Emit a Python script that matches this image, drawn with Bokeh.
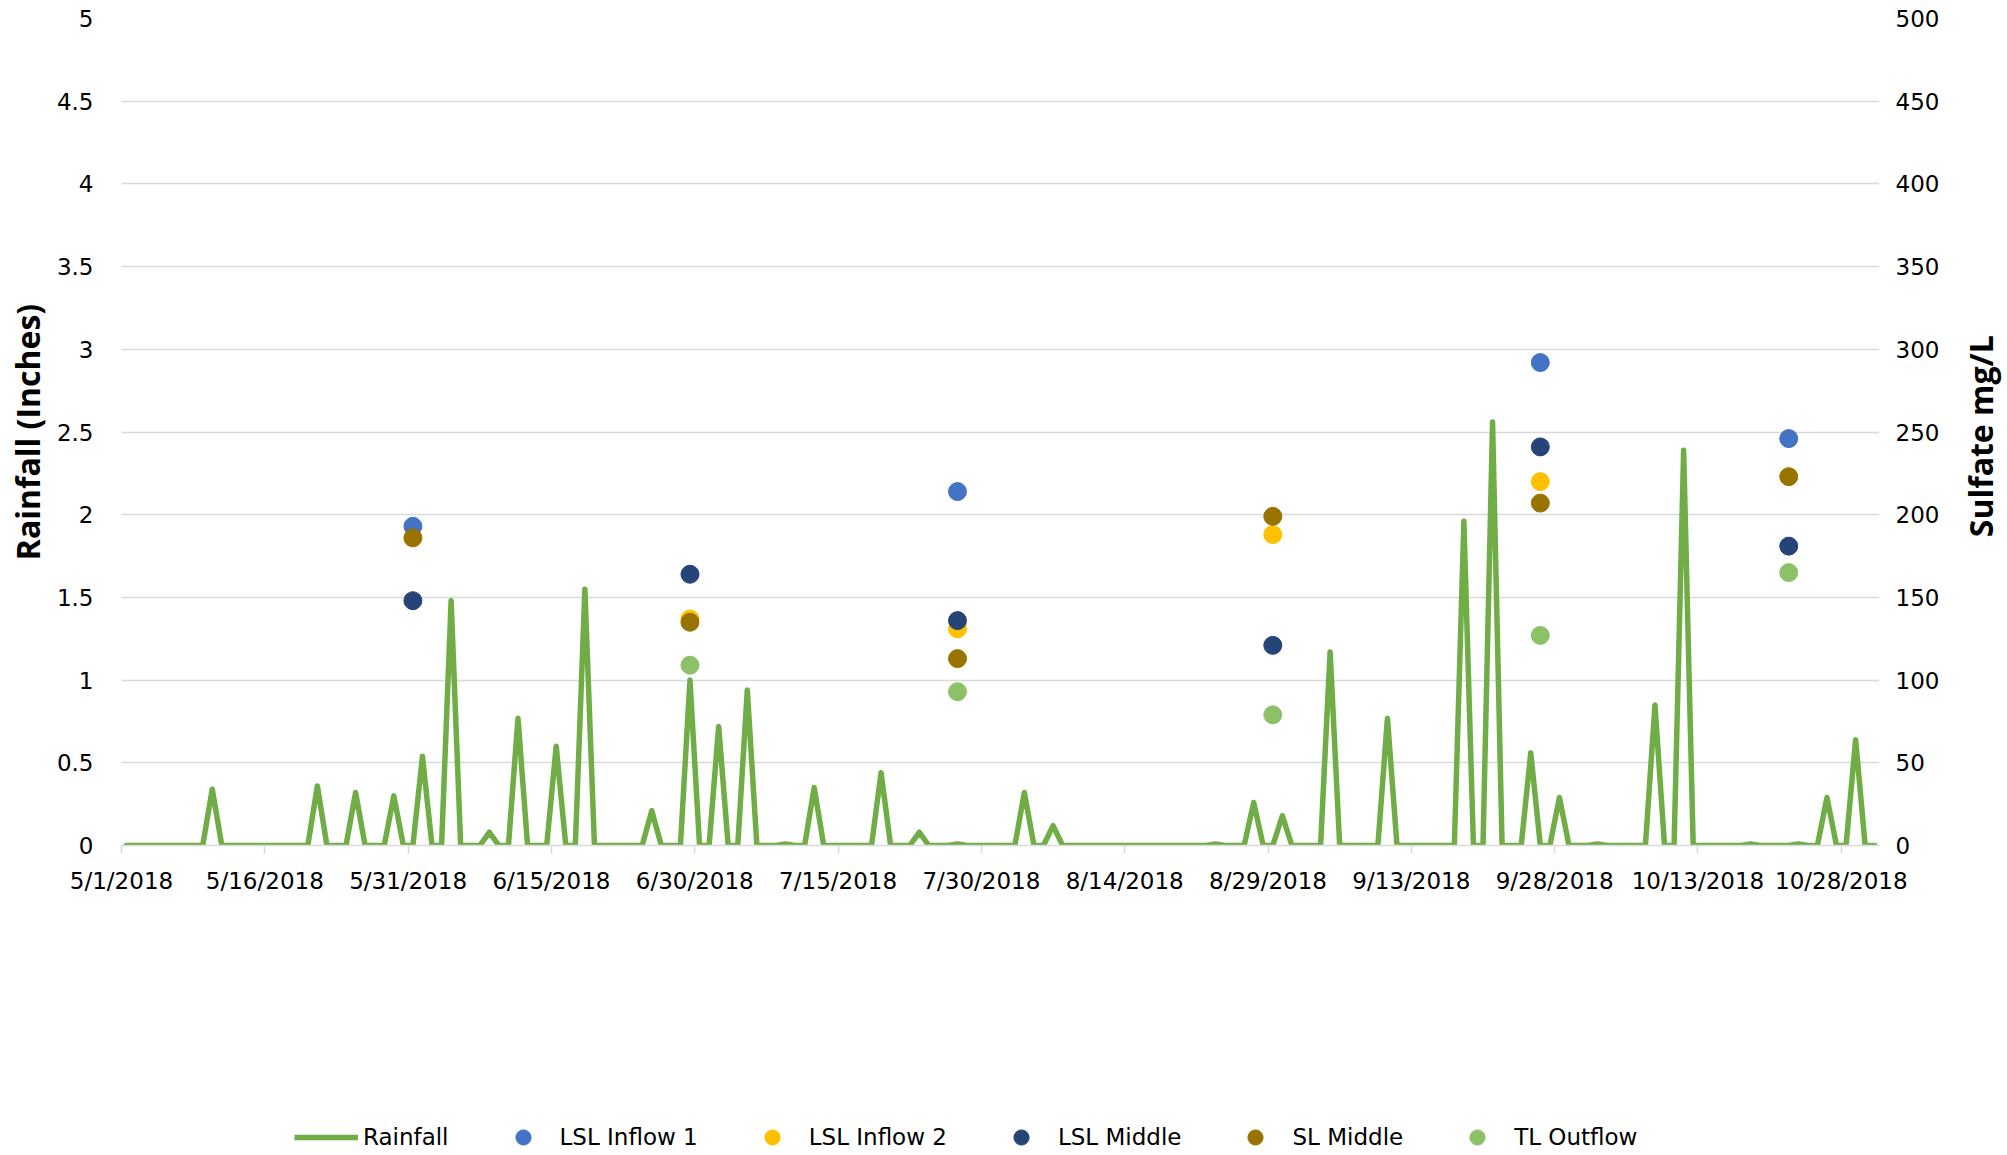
import math
from datetime import datetime

import pandas as pd
from bokeh.plotting import figure
from bokeh.layouts import column, row
from bokeh.models import (Range1d, LinearAxis, FixedTicker, DatetimeTickFormatter,
                          NumeralTickFormatter, Legend, LegendItem, Label, ColumnDataSource)
from bokeh.embed import file_html
from bokeh.resources import INLINE

# Daily rainfall (inches), one value per day from 5/1/2018 to 10/31/2018
rain_start = "2018-05-01"
rain_may = [0, 0, 0, 0, 0, 0, 0, 0, 0, 0.34,
            0, 0, 0, 0, 0, 0, 0, 0, 0, 0,
            0.36, 0, 0, 0, 0.32, 0, 0, 0, 0.30, 0,
            0]
rain_jun = [0.54, 0, 0, 1.48, 0, 0, 0, 0.08, 0, 0,
            0.77, 0, 0, 0, 0.60, 0, 0, 1.55, 0, 0,
            0, 0, 0, 0, 0.21, 0, 0, 0, 1.00, 0]
rain_jul = [0, 0.72, 0, 0, 0.94, 0, 0, 0, 0.01, 0,
            0, 0.35, 0, 0, 0, 0, 0, 0, 0.44, 0,
            0, 0, 0.08, 0, 0, 0, 0.01, 0, 0, 0,
            0]
rain_aug = [0, 0, 0.32, 0, 0, 0.12, 0, 0, 0, 0,
            0, 0, 0, 0, 0, 0, 0, 0, 0, 0,
            0, 0, 0.01, 0, 0, 0, 0.26, 0, 0, 0.18,
            0]
rain_sep = [0, 0, 0, 1.17, 0, 0, 0, 0, 0, 0.77,
            0, 0, 0, 0, 0, 0, 0, 1.96, 0, 0,
            2.56, 0, 0, 0, 0.56, 0, 0, 0.29, 0, 0]
rain_oct = [0, 0.01, 0, 0, 0, 0, 0, 0.85, 0, 0,
            2.39, 0, 0, 0, 0, 0, 0, 0.01, 0, 0,
            0, 0, 0.01, 0, 0, 0.29, 0, 0, 0.64, 0,
            0]

# Sulfate samples (mg/L)
lsl_inflow1_dates = ["2018-05-31", "2018-07-27", "2018-09-26", "2018-10-22"]
lsl_inflow1 = [193, 214, 292, 246]
lsl_inflow2_dates = ["2018-06-29", "2018-07-27", "2018-08-29", "2018-09-26"]
lsl_inflow2 = [137, 131, 188, 220]
lsl_middle_dates = ["2018-05-31", "2018-06-29", "2018-07-27", "2018-08-29", "2018-09-26", "2018-10-22"]
lsl_middle = [148, 164, 136, 121, 241, 181]
sl_middle_dates = ["2018-05-31", "2018-06-29", "2018-07-27", "2018-08-29", "2018-09-26", "2018-10-22"]
sl_middle = [186, 135, 113, 199, 207, 223]
tl_outflow_dates = ["2018-06-29", "2018-07-27", "2018-08-29", "2018-09-26", "2018-10-22"]
tl_outflow = [109, 93, 79, 127, 165]

# Axis ticks
x_tick_dates = ["2018-05-01", "2018-05-16", "2018-05-31", "2018-06-15", "2018-06-30",
                "2018-07-15", "2018-07-30", "2018-08-14", "2018-08-29", "2018-09-13",
                "2018-09-28", "2018-10-13", "2018-10-28"]
rain_ticks = [0, 0.5, 1, 1.5, 2, 2.5, 3, 3.5, 4, 4.5, 5]
sulfate_ticks = [0, 50, 100, 150, 200, 250, 300, 350, 400, 450, 500]

TICK_FONT = "DejaVu Sans"
TICK_SIZE = "23px"
TITLE_FONT = "Open Sans"
TITLE_SIZE = "32px"
GRID = "#d9d9d9"
RAIN_COLOR = "#70ad47"
RAIN_WIDTH = 5.5
DOT_SIZE = 18

# page geometry: chart + right title strip on top, legend strip underneath
CHART_W, TITLE_W = 1950, 57
CHART_H, LEGEND_H = 1100, 55
BORDER_L, BORDER_R, BORDER_T, BORDER_B = 121, 71, 18, 255

half_day = pd.Timedelta(hours=12)


def day_centres(dates):
    # each daily value sits in the middle of its day slot
    return pd.to_datetime(dates) + half_day


def blank_strip(width, height):
    f = figure(width=width, height=height, x_range=Range1d(0, 1), y_range=Range1d(0, 1),
               output_backend="svg", toolbar_location=None,
               x_axis_location=None, y_axis_location=None,
               min_border_left=0, min_border_right=0, min_border_top=0, min_border_bottom=0)
    f.outline_line_color = None
    f.grid.visible = False
    f.background_fill_color = "white"
    f.border_fill_color = "white"
    return f


rain = rain_may + rain_jun + rain_jul + rain_aug + rain_sep + rain_oct
rain_x = pd.date_range(rain_start, periods=len(rain), freq="D") + half_day

p = figure(width=CHART_W, height=CHART_H, x_axis_type="datetime",
           x_range=Range1d(datetime(2018, 5, 1), datetime(2018, 11, 1)),
           y_range=Range1d(0, 5),
           output_backend="svg", toolbar_location=None,
           min_border_left=BORDER_L, min_border_right=BORDER_R,
           min_border_top=BORDER_T, min_border_bottom=BORDER_B)
p.outline_line_color = None
p.background_fill_color = "white"
p.border_fill_color = "white"
p.extra_y_ranges = {"sulfate": Range1d(0, 500)}

# grid
p.xgrid.visible = False
p.ygrid.ticker = FixedTicker(ticks=rain_ticks)
p.ygrid.grid_line_color = GRID
p.ygrid.grid_line_width = 1.5

# bottom date axis
x_ticks_ms = [int(t.value // 10**6) for t in pd.to_datetime(x_tick_dates)]
xaxis = p.xaxis[0]
xaxis.ticker = FixedTicker(ticks=x_ticks_ms)
fmt = "%-m/%-d/%Y"
xaxis.formatter = DatetimeTickFormatter(days=fmt, months=fmt, years=fmt, hours=fmt,
                                        minutes=fmt, seconds=fmt, milliseconds=fmt,
                                        microseconds=fmt, hourmin=fmt, minsec=fmt)
xaxis.axis_line_color = GRID
xaxis.axis_line_width = 1.5
xaxis.major_tick_line_color = GRID
xaxis.major_tick_line_width = 1.5
xaxis.major_tick_in = 0
xaxis.major_tick_out = 8
xaxis.minor_tick_line_color = None
xaxis.major_label_standoff = 14
xaxis.major_label_text_font = TICK_FONT
xaxis.major_label_text_font_size = TICK_SIZE
xaxis.major_label_text_color = "black"

# left rainfall axis
yaxis = p.yaxis[0]
yaxis.ticker = FixedTicker(ticks=rain_ticks)
yaxis.formatter = NumeralTickFormatter(format="0.[0]")
yaxis.axis_line_color = None
yaxis.major_tick_line_color = None
yaxis.minor_tick_line_color = None
yaxis.major_tick_out = 0
yaxis.major_label_standoff = 28
yaxis.major_label_text_font = TICK_FONT
yaxis.major_label_text_font_size = TICK_SIZE
yaxis.major_label_text_color = "black"
yaxis.axis_label = "Rainfall (Inches)"
yaxis.axis_label_text_font = TITLE_FONT
yaxis.axis_label_text_font_style = "bold"
yaxis.axis_label_text_font_size = TITLE_SIZE
yaxis.axis_label_text_color = "black"
yaxis.axis_label_standoff = 5

# right sulfate axis
raxis = LinearAxis(y_range_name="sulfate", ticker=FixedTicker(ticks=sulfate_ticks))
raxis.axis_line_color = None
raxis.major_tick_line_color = None
raxis.minor_tick_line_color = None
raxis.major_tick_out = 0
raxis.major_label_standoff = 16
raxis.major_label_text_font = TICK_FONT
raxis.major_label_text_font_size = TICK_SIZE
raxis.major_label_text_color = "black"
p.add_layout(raxis, "right")

# rainfall line
rain_src = ColumnDataSource(dict(x=rain_x, y=rain))
p.line("x", "y", source=rain_src, line_color=RAIN_COLOR, line_width=RAIN_WIDTH,
       line_join="round", line_cap="round")

# sulfate samples
series = [
    ("LSL Inflow 1", lsl_inflow1_dates, lsl_inflow1, "#4472c4"),
    ("LSL Inflow 2", lsl_inflow2_dates, lsl_inflow2, "#ffc000"),
    ("LSL Middle", lsl_middle_dates, lsl_middle, "#264478"),
    ("SL Middle", sl_middle_dates, sl_middle, "#997300"),
    ("TL Outflow", tl_outflow_dates, tl_outflow, "#8cc168"),
]
sample_sources = []
for name, dates, vals, color in series:
    src = ColumnDataSource(dict(x=day_centres(dates), y=vals))
    sample_sources.append(src)
    p.scatter("x", "y", source=src, y_range_name="sulfate", size=DOT_SIZE,
              fill_color=color, line_color=color, marker="circle")

# right-hand axis title, reading bottom to top; this strip's plot area lines up
# with the chart's, so its vertical middle is the middle of the chart area
title_strip = blank_strip(TITLE_W, CHART_H)
frame_h = CHART_H - BORDER_T - BORDER_B
title_strip.add_layout(Label(x=TITLE_W - 27, y=frame_h / 2, x_units="screen", y_units="screen",
                             text="Sulfate  mg/L", angle=math.pi / 2,
                             text_align="center", text_baseline="middle",
                             text_font=TITLE_FONT, text_font_style="bold",
                             text_font_size=TITLE_SIZE, text_color="black"))

# legend strip: hidden copies of each series provide the legend swatches
legend_strip = blank_strip(CHART_W + TITLE_W, LEGEND_H)
legend_strip.x_range = Range1d(datetime(2018, 5, 1), datetime(2018, 11, 1))
legend_strip.extra_y_ranges = {"sulfate": Range1d(0, 500)}
leg_rain = legend_strip.line("x", "y", source=rain_src, line_color=RAIN_COLOR,
                             line_width=RAIN_WIDTH, visible=False)
items = [LegendItem(label="Rainfall", renderers=[leg_rain])]
for (name, dates, vals, color), src in zip(series, sample_sources):
    r = legend_strip.scatter("x", "y", source=src, y_range_name="sulfate", size=DOT_SIZE,
                             fill_color=color, line_color=color, marker="circle",
                             visible=False)
    items.append(LegendItem(label=name, renderers=[r]))

legend = Legend(items=items, orientation="horizontal", location=(294, -1),
                glyph_width=64, glyph_height=38, label_standoff=5, spacing=42,
                padding=0, margin=0, border_line_color=None,
                background_fill_alpha=0, inactive_fill_alpha=0,
                label_text_font=TICK_FONT, label_text_font_size=TICK_SIZE,
                label_text_color="black")
legend_strip.add_layout(legend)

layout = column(row(p, title_strip, spacing=0), legend_strip, spacing=0)
open("out.html", "w").write(file_html(layout, INLINE))
